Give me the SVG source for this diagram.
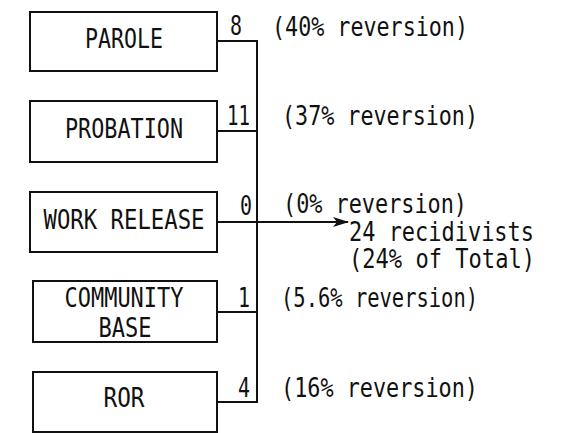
<svg xmlns="http://www.w3.org/2000/svg" width="566" height="433" viewBox="0 0 566 433">
<style>
text{font-family:"DejaVu Sans Mono","Liberation Mono",monospace;font-size:26px;fill:#111}
.box{fill:#fff;stroke:#111;stroke-width:2}
.c{text-anchor:middle}
.ln{fill:none;stroke:#111;stroke-width:2}
</style>
<defs>
<marker id="ah" markerWidth="16" markerHeight="10" refX="15" refY="5" orient="auto" markerUnits="userSpaceOnUse">
<path d="M0,0 L16,5 L0,10 L4,5 Z" fill="#111"/>
</marker>
</defs>
<rect width="566" height="433" fill="#fff"/>
<g id="parole"><rect class="box" x="30" y="12" width="187" height="59"/><text class="c" x="124" y="48" textLength="78" lengthAdjust="spacingAndGlyphs">PAROLE</text></g>
<g id="probation"><rect class="box" x="30" y="101" width="187" height="61"/><text class="c" x="124" y="138" textLength="118" lengthAdjust="spacingAndGlyphs">PROBATION</text></g>
<g id="work-release"><rect class="box" x="30" y="192" width="187" height="60"/><text class="c" x="124" y="229" textLength="161" lengthAdjust="spacingAndGlyphs">WORK RELEASE</text></g>
<g id="community-base"><rect class="box" x="33" y="281" width="184" height="61"/><text class="c" x="124" y="307" textLength="119" lengthAdjust="spacingAndGlyphs">COMMUNITY</text><text class="c" x="125" y="337" textLength="53" lengthAdjust="spacingAndGlyphs">BASE</text></g>
<g id="ror"><rect class="box" x="33" y="372" width="184" height="60"/><text class="c" x="124" y="407" textLength="41" lengthAdjust="spacingAndGlyphs">ROR</text></g>
<g id="connectors">
<path class="ln" d="M217,41 H257 V402 H217 M217,131 H257 M217,312 H257"/>
<path class="ln" d="M217,222 H348" marker-end="url(#ah)"/>
</g>
<g id="labels">
<text x="230" y="35" textLength="12" lengthAdjust="spacingAndGlyphs">8</text>
<text x="227" y="125" textLength="23" lengthAdjust="spacingAndGlyphs">11</text>
<text x="240" y="215" textLength="12" lengthAdjust="spacingAndGlyphs">0</text>
<text x="238" y="307" textLength="12" lengthAdjust="spacingAndGlyphs">1</text>
<text x="238" y="397" textLength="12" lengthAdjust="spacingAndGlyphs">4</text>
<text x="272" y="36" textLength="196" lengthAdjust="spacingAndGlyphs">(40% reversion)</text>
<text x="282" y="125" textLength="196" lengthAdjust="spacingAndGlyphs">(37% reversion)</text>
<text x="283" y="213" textLength="184" lengthAdjust="spacingAndGlyphs">(0% reversion)</text>
<text x="349" y="241" textLength="185" lengthAdjust="spacingAndGlyphs">24 recidivists</text>
<text x="349" y="268" textLength="186" lengthAdjust="spacingAndGlyphs">(24% of Total)</text>
<text x="281" y="307" textLength="197" lengthAdjust="spacingAndGlyphs">(5.6% reversion)</text>
<text x="281" y="397" textLength="197" lengthAdjust="spacingAndGlyphs">(16% reversion)</text>
</g>
</svg>
